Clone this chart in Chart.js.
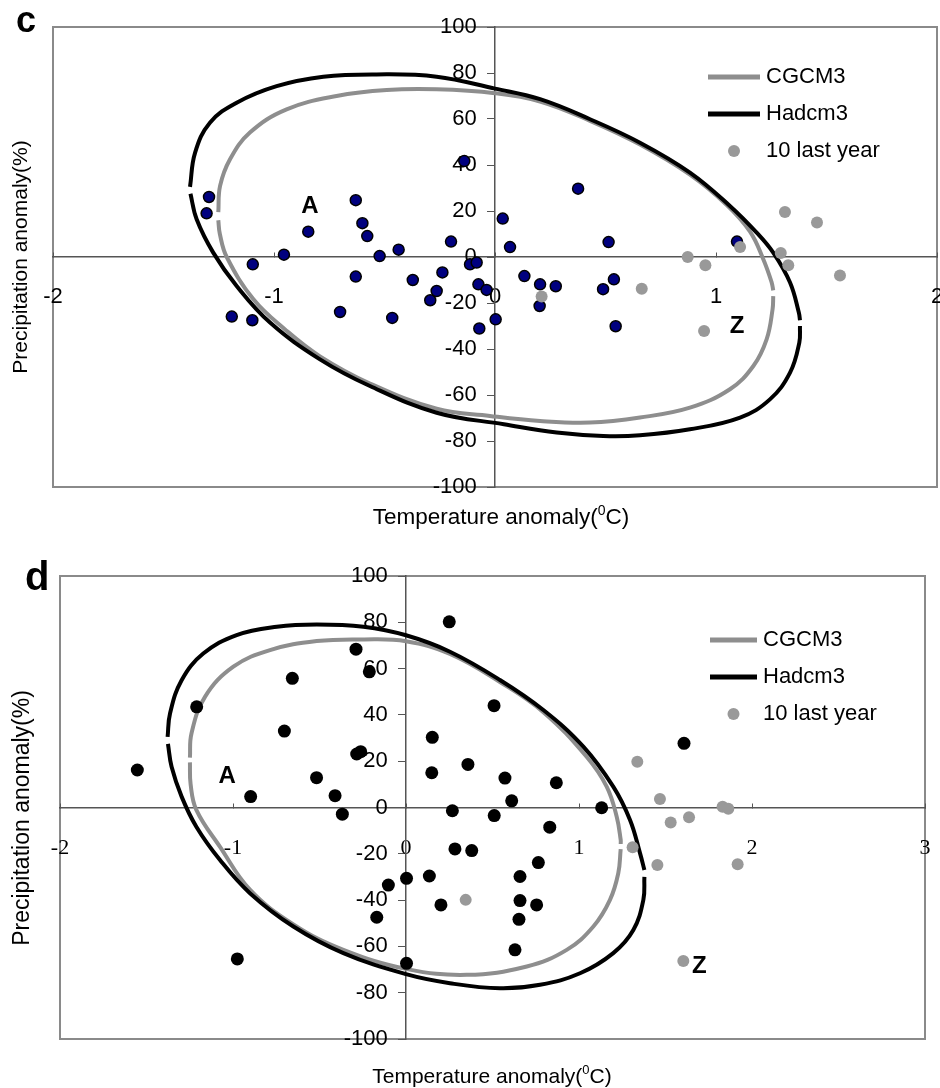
<!DOCTYPE html>
<html>
<head>
<meta charset="utf-8">
<script src="https://cdn.jsdelivr.net/npm/chart.js@4.4.1/dist/chart.umd.min.js"></script>
<style>
  body { margin: 0; background: #fff; }
  .panel { position: absolute; left: 0; width: 940px; }
</style>
</head>
<body>
<div class="panel" style="top:0;height:540px"><canvas id="chartC"></canvas></div>
<div class="panel" style="top:540px;height:548px"><canvas id="chartD"></canvas></div>
<script>
// ---- panel c : observed years (blue) and last 10 years (grey) ----
const cTemp = [-1.294, -1.305, -1.096, -0.955, -0.845, -1.191, -1.098, -0.630, -0.600, -0.578, -0.522, -0.436, -0.630,
    -0.701, -0.465, -0.372, -0.199, -0.238, -0.264, -0.293, -0.113, -0.083, -0.075, -0.038, -0.071, 0.003, -0.139,
    0.035, 0.068, 0.376, 0.514, 0.133, 0.204, 0.275, 0.202, 0.538, 0.489, 0.546, 1.095];
const cPrecip = [26.1, 19.0, -3.2, 1.0, 11.0, -25.9, -27.5, 24.7, 14.7, 9.1, 0.4, 3.2, -8.5,
    -23.9, -26.5, -10.0, 6.7, -6.7, -14.8, -18.8, -3.2, -2.4, -11.9, -14.3, -31.1, -27.1, 41.7,
    16.7, 4.3, 29.7, 6.5, -8.3, -11.9, -12.7, -21.3, -9.7, -14.0, -30.1, 6.7];
const cLastTemp = [0.211, 0.664, 0.872, 0.952, 0.946, 1.109, 1.312, 1.457, 1.293, 1.327, 1.561];
const cLastPrecip = [-17.2, -13.8, 0.0, -3.6, -32.2, 4.3, 19.6, 15.0, 1.7, -3.6, -8.0];

// ellipses (upper and lower arcs, [temp, precip])
const cCgcm3Upper = [[-1.252, 19.5], [-1.244, 30.9], [-1.199, 42.5], [-1.109, 54.1], [-0.943, 64.2], [-0.717, 70.0],
    [-0.490, 72.6], [-0.264, 72.9], [0.0, 71.2], [0.204, 67.6], [0.430, 59.2], [0.656, 48.9], [0.882, 35.8],
    [1.050, 22.5], [1.154, 11.0], [1.214, -1.0], [1.252, -11.1], [1.259, -14.5]];
const cCgcm3Lower = [[1.259, -17.0], [1.256, -22.7], [1.229, -35.8], [1.169, -47.4], [1.063, -57.5], [0.882, -65.5],
    [0.656, -69.8], [0.430, -72.0], [0.204, -71.3], [-0.023, -69.1], [-0.264, -66.0], [-0.566, -55.0],
    [-0.792, -43.2], [-0.950, -31.5], [-1.093, -18.4], [-1.214, 0.0], [-1.245, 10.0], [-1.252, 16.0]];
const cHadcm3Upper = [[-1.380, 30.5], [-1.357, 45.4], [-1.290, 58.4], [-1.169, 67.1], [-0.988, 74.3], [-0.777, 78.4],
    [-0.536, 79.4], [-0.264, 78.4], [0.0, 73.2], [0.204, 68.6], [0.430, 59.9], [0.656, 49.7], [0.882, 36.7],
    [1.063, 22.2], [1.184, 10.6], [1.259, 1.9], [1.335, -11.1], [1.375, -24.2], [1.380, -27.5]];
const cHadcm3Lower = [[1.380, -30.0], [1.377, -37.2], [1.335, -50.3], [1.244, -61.9], [1.109, -69.8], [0.882, -74.9],
    [0.656, -77.5], [0.490, -77.8], [0.279, -76.3], [0.040, -72.7], [-0.264, -67.7], [-0.566, -56.1],
    [-0.792, -44.5], [-1.018, -28.5], [-1.169, -12.6], [-1.275, 1.9], [-1.350, 16.4], [-1.378, 27.5]];

const cNotes = ['A', 'Z'];
const cNoteTemp = [-0.837, 1.095];
const cNotePrecip = [22.2, -30.3];

// ---- panel d ----
const dTemp = [-1.553, -1.210, -0.898, -0.975, -0.657, -0.703, -0.517, -0.410, -0.368, -0.289, -0.212, -0.285, -0.262,
    -0.102, -0.169, 0.003, 0.003, 0.250, 0.509, 0.152, 0.149, 0.358, 0.572, 0.611, 0.869, 0.268, 0.510, 1.131,
    0.831, 0.283, 0.380, 0.765, 0.135, 0.659, 0.202, 0.659, 0.755, 0.653, 0.630, 1.607];
const dPrecip = [16.2, 43.5, 4.7, -65.4, 55.8, 33.0, 12.9, 5.1, -2.9, 68.4, 58.6, 23.1, 24.1,
    -33.5, -47.4, -30.6, -67.3, 80.2, 44.0, 30.3, 15.0, 18.6, 12.7, 2.9, 10.7, -1.4, -3.5, -0.1,
    -8.5, -17.9, -18.6, -23.8, -29.6, -29.8, -42.1, -40.2, -42.1, -48.3, -61.5, 27.7];
const dLastTemp = [0.345, 1.337, 1.468, 1.530, 1.636, 1.830, 1.863, 1.310, 1.453, 1.917, 1.603];
const dLastPrecip = [-39.9, 19.8, 3.7, -6.5, -4.2, 0.3, -0.5, -17.2, -24.8, -24.5, -66.3];

const dCgcm3Upper = [[-1.249, 21.5], [-1.240, 32.0], [-1.162, 47.8], [-0.998, 60.8], [-0.786, 68.0], [-0.516, 71.9],
    [-0.246, 72.6], [0.0, 71.8], [0.254, 66.3], [0.543, 54.2], [0.794, 41.2], [1.044, 21.9], [1.160, 9.0],
    [1.218, -4.0], [1.241, -14.0], [1.241, -15.8]];
const dCgcm3Lower = [[1.241, -18.0], [1.227, -28.4], [1.179, -39.9], [1.083, -51.4], [0.929, -61.5], [0.698, -68.7],
    [0.351, -72.3], [0.0, -69.7], [-0.362, -61.5], [-0.651, -50.5], [-0.902, -35.5], [-1.075, -17.0],
    [-1.212, -1.0], [-1.245, 10.0], [-1.249, 19.5]];
const dHadcm3Upper = [[-1.378, 30.5], [-1.364, 40.6], [-1.297, 55.0], [-1.172, 66.5], [-0.979, 74.5], [-0.747, 78.1],
    [-0.516, 79.1], [-0.246, 78.1], [0.0, 74.4], [0.254, 67.3], [0.543, 55.1], [0.794, 42.1], [1.025, 26.3],
    [1.198, 9.0], [1.295, -5.4], [1.353, -19.8], [1.378, -27.0]];
const dHadcm3Lower = [[1.378, -30.0], [1.372, -39.9], [1.314, -52.9], [1.198, -62.9], [1.006, -71.6], [0.775, -76.6],
    [0.543, -78.1], [0.254, -75.9], [0.0, -72.0], [-0.362, -62.9], [-0.651, -51.4], [-0.902, -37.0],
    [-1.075, -22.7], [-1.212, -8.3], [-1.297, 4.7], [-1.355, 17.6], [-1.376, 27.5]];

const dNotes = ['A', 'Z'];
const dNoteTemp = [-1.033, 1.695];
const dNotePrecip = [13.3, -68.7];

const legendLabels = ['CGCM3', 'Hadcm3', '10 last year'];
const xTitle = ['Temperature anomaly(', '0', 'C)'];
const yTitle = 'Precipitation anomaly(%)';

const SANS = "'Liberation Sans', Arial, sans-serif";
const SERIF = "'Liberation Serif', 'Times New Roman', serif";
const GREY = '#999999';
const LINE_GREY = '#8e8e8e';

const toPoints = (xs, ys) => xs.map((x, i) => ({ x: x, y: ys[i] }));
const pairPoints = arr => arr.map(p => ({ x: p[0], y: p[1] }));

// frame, legend, titles, panel letter and the A / Z notes
const panelExtras = {
    id: 'panelExtras',
    beforeDraw(chart, args, o) {
        const { ctx, chartArea: a } = chart;
        ctx.save();
        ctx.strokeStyle = '#8a8a8a';
        ctx.lineWidth = 2;
        ctx.strokeRect(a.left, a.top, a.right - a.left, a.bottom - a.top);
        ctx.restore();
    },
    afterDraw(chart, args, o) {
        const { ctx } = chart;
        const xs = chart.scales.x, ys = chart.scales.y;
        ctx.save();
        ctx.fillStyle = '#000';

        // panel letter
        ctx.font = 'bold ' + o.letterSize + 'px ' + SANS;
        ctx.textAlign = 'left';
        ctx.textBaseline = 'alphabetic';
        ctx.fillText(o.letter, o.letterPos[0], o.letterPos[1]);

        // A / Z
        ctx.font = 'bold 24px ' + SANS;
        ctx.textAlign = 'center';
        ctx.textBaseline = 'middle';
        o.notes.forEach((t, i) => {
            ctx.fillText(t, xs.getPixelForValue(o.noteTemp[i]), ys.getPixelForValue(o.notePrecip[i]));
        });

        // legend
        const L = o.legend;
        ctx.lineCap = 'butt';
        ctx.lineWidth = 5;
        ctx.strokeStyle = LINE_GREY;
        ctx.beginPath(); ctx.moveTo(L.x, L.y); ctx.lineTo(L.x + L.len, L.y); ctx.stroke();
        ctx.strokeStyle = '#000';
        ctx.beginPath(); ctx.moveTo(L.x, L.y + L.gap); ctx.lineTo(L.x + L.len, L.y + L.gap); ctx.stroke();
        ctx.fillStyle = GREY;
        ctx.beginPath(); ctx.arc(L.x + L.len / 2, L.y + 2 * L.gap, 6, 0, Math.PI * 2); ctx.fill();
        ctx.fillStyle = '#000';
        ctx.font = '22px ' + SANS;
        ctx.textAlign = 'left';
        legendLabels.forEach((t, i) => ctx.fillText(t, L.x + L.len + 6, L.y + i * L.gap));

        // x title with superscript
        const s = o.titleSize;
        ctx.textBaseline = 'alphabetic';
        ctx.font = s + 'px ' + SANS;
        const w1 = ctx.measureText(xTitle[0]).width, w3 = ctx.measureText(xTitle[2]).width;
        ctx.font = Math.round(s * 0.62) + 'px ' + SANS;
        const w2 = ctx.measureText(xTitle[1]).width;
        let x = o.xTitlePos[0] - (w1 + w2 + w3) / 2;
        const base = o.xTitlePos[1] + s * 0.36;
        ctx.font = s + 'px ' + SANS;
        ctx.fillText(xTitle[0], x, base);
        x += w1;
        ctx.font = Math.round(s * 0.62) + 'px ' + SANS;
        ctx.fillText(xTitle[1], x, base - s * 0.42);
        x += w2;
        ctx.font = s + 'px ' + SANS;
        ctx.fillText(xTitle[2], x, base);

        // y title
        ctx.translate(o.yTitlePos[0], o.yTitlePos[1]);
        ctx.rotate(-Math.PI / 2);
        ctx.font = o.yTitleSize + 'px ' + SANS;
        ctx.textAlign = 'center';
        ctx.textBaseline = 'middle';
        ctx.fillText(yTitle, 0, 0);
        ctx.restore();
    }
};

function ellipseSet(points, color, order) {
    return {
        data: pairPoints(points),
        showLine: true,
        borderColor: color,
        borderWidth: 4,
        pointRadius: 0,
        tension: 0.4,
        fill: false,
        order: order
    };
}

function makePanel(id, p) {
    return new Chart(document.getElementById(id), {
        type: 'scatter',
        data: {
            datasets: [
                {
                    data: toPoints(p.lastTemp, p.lastPrecip),
                    backgroundColor: GREY,
                    borderWidth: 0,
                    pointRadius: 6,
                    order: 0
                },
                {
                    data: toPoints(p.temp, p.precip),
                    backgroundColor: p.dotColor,
                    borderColor: '#000',
                    borderWidth: p.dotBorder,
                    pointRadius: p.dotRadius,
                    order: 1
                },
                ellipseSet(p.hadUpper, '#000', 2),
                ellipseSet(p.hadLower, '#000', 2),
                ellipseSet(p.cgUpper, LINE_GREY, 3),
                ellipseSet(p.cgLower, LINE_GREY, 3)
            ]
        },
        options: {
            responsive: true,
            maintainAspectRatio: false,
            animation: false,
            devicePixelRatio: 1,
            layout: { padding: p.padding, autoPadding: false },
            scales: {
                x: {
                    type: 'linear',
                    min: -2,
                    max: p.xMax,
                    position: { y: 0 },
                    ticks: {
                        stepSize: 1,
                        color: '#000',
                        // a tall line box pushes the labels well below the zero line
                        padding: -7,
                        font: { family: p.xFont, size: 22, lineHeight: p.xLabelLine },
                        callback: v => String(v)
                    },
                    grid: { drawOnChartArea: false, tickLength: -5, color: '#555' },
                    border: { color: '#555', width: 1.5 }
                },
                y: {
                    type: 'linear',
                    min: -100,
                    max: 100,
                    position: { x: 0 },
                    ticks: {
                        stepSize: 20,
                        color: '#000',
                        font: { family: SANS, size: 22 },
                        callback: v => v + '   '
                    },
                    grid: { drawOnChartArea: false, tickLength: 7, color: '#555' },
                    border: { color: '#555', width: 1.5 }
                }
            },
            plugins: {
                legend: { display: false },
                tooltip: { enabled: false },
                panelExtras: p.extras
            }
        },
        plugins: [panelExtras]
    });
}

makePanel('chartC', {
    temp: cTemp, precip: cPrecip, lastTemp: cLastTemp, lastPrecip: cLastPrecip,
    hadUpper: cHadcm3Upper, hadLower: cHadcm3Lower, cgUpper: cCgcm3Upper, cgLower: cCgcm3Lower,
    dotColor: '#00007f', dotBorder: 1.5, dotRadius: 5.5,
    xMax: 2, xFont: SANS, xLabelLine: '104px',
    padding: { left: 53, right: 3, top: 27, bottom: 53 },
    extras: {
        letter: 'c', letterSize: 36, letterPos: [16, 32],
        notes: cNotes, noteTemp: cNoteTemp, notePrecip: cNotePrecip,
        legend: { x: 708, y: 77, gap: 37, len: 52 },
        titleSize: 22.5, xTitlePos: [501, 516],
        yTitleSize: 21, yTitlePos: [21, 257]
    }
});

makePanel('chartD', {
    temp: dTemp, precip: dPrecip, lastTemp: dLastTemp, lastPrecip: dLastPrecip,
    hadUpper: dHadcm3Upper, hadLower: dHadcm3Lower, cgUpper: dCgcm3Upper, cgLower: dCgcm3Lower,
    dotColor: '#000', dotBorder: 0, dotRadius: 6.5,
    xMax: 3, xFont: SERIF, xLabelLine: '105px',
    padding: { left: 60, right: 15, top: 36, bottom: 49 },
    extras: {
        letter: 'd', letterSize: 40, letterPos: [25, 50],
        notes: dNotes, noteTemp: dNoteTemp, notePrecip: dNotePrecip,
        legend: { x: 710, y: 100, gap: 37, len: 47 },
        titleSize: 21, xTitlePos: [492, 535],
        yTitleSize: 23, yTitlePos: [23, 278]
    }
});
</script>
</body>
</html>
